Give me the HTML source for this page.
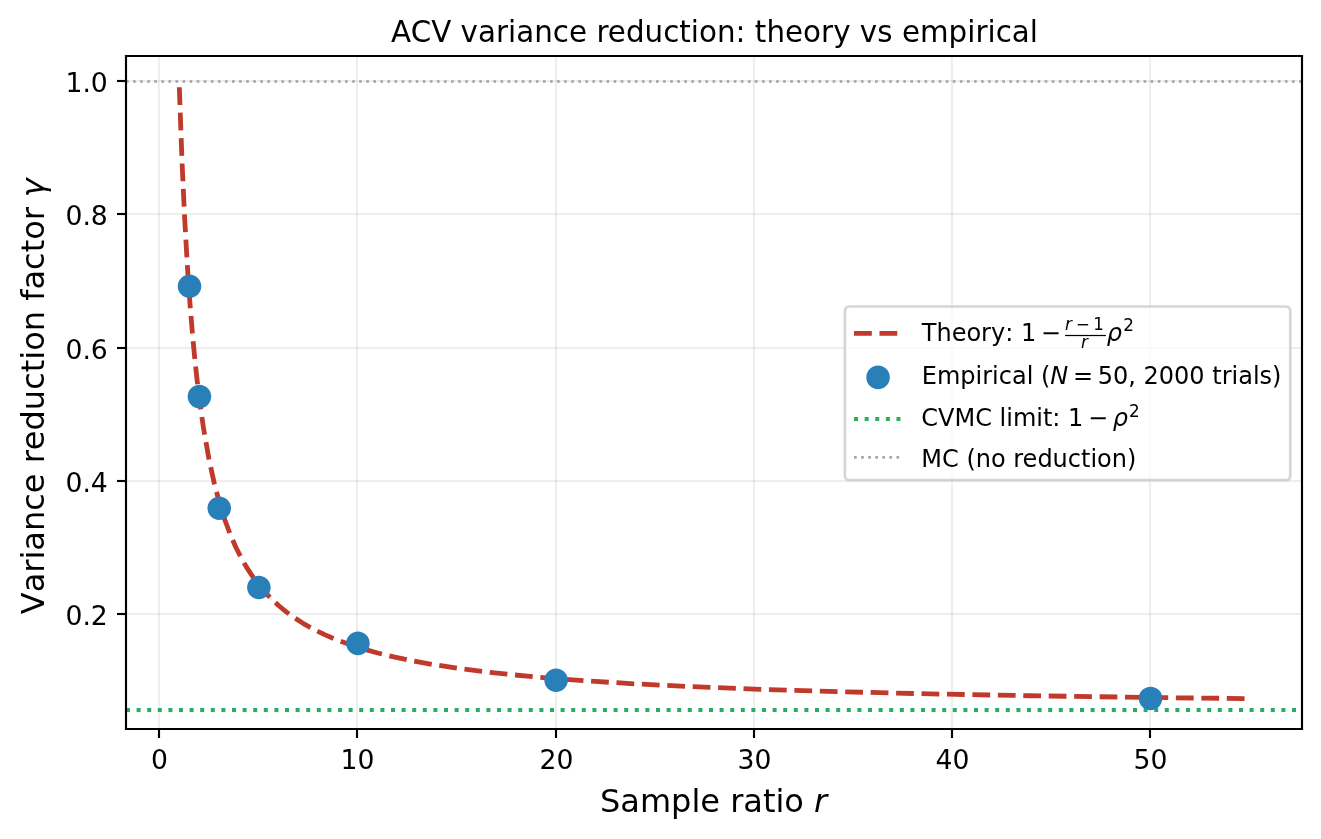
<!DOCTYPE html>
<html lang="en">
<head>
<meta charset="utf-8">
<title>ACV variance reduction: theory vs empirical</title>
<style>
html,body{margin:0;padding:0;background:#fff;}
body{width:1321px;height:839px;overflow:hidden;font-family:"DejaVu Sans","Liberation Sans",sans-serif;}
svg{display:block;}
svg text{white-space:pre;}
</style>
</head>
<body>
<svg width="1321" height="839" viewBox="0 0 495.3750 314.6250" version="1.1">
 <defs>
  <style type="text/css">*{stroke-linejoin: round; stroke-linecap: butt}</style>
 </defs>
 <g id="figure_1">
  <g id="patch_1">
   <path d="M 0 314.625 
L 495.375 314.625 
L 495.375 0 
L 0 0 
z
" style="fill: #ffffff"/>
  </g>
  <g id="axes_1">
   <g id="patch_2">
    <path d="M 47.25 273.375 
L 488.25 273.375 
L 488.25 21 
L 47.25 21 
z
" style="fill: #ffffff"/>
   </g>
   <g id="matplotlib.axis_1">
    <g id="xtick_1">
     <g id="line2d_1">
      <path d="M 59.625 273.375 
L 59.625 21 
" clip-path="url(#p05cda53aca)" style="fill: none; stroke: #b0b0b0; stroke-opacity: 0.22; stroke-width: 0.8; stroke-linecap: square"/>
     </g>
     <g id="line2d_2">
      <g>
       <path d="M 0 0 L 0 3.375" transform="translate(59.625 273.375)" style="stroke: #000000; stroke-width: 0.8"/>
      </g>
     </g>
     <g id="text_1">
      <text style="font-size: 10px; font-family: 'DejaVu Sans', 'Liberation Sans', sans-serif; text-anchor: middle" x="59.79375" y="288.498312">0</text>
     </g>
    </g>
    <g id="xtick_2">
     <g id="line2d_3">
      <path d="M 133.875 273.375 
L 133.875 21 
" clip-path="url(#p05cda53aca)" style="fill: none; stroke: #b0b0b0; stroke-opacity: 0.22; stroke-width: 0.8; stroke-linecap: square"/>
     </g>
     <g id="line2d_4">
      <g>
       <path d="M 0 0 L 0 3.375" transform="translate(133.875 273.375)" style="stroke: #000000; stroke-width: 0.8"/>
      </g>
     </g>
     <g id="text_2">
      <text style="font-size: 10px; font-family: 'DejaVu Sans', 'Liberation Sans', sans-serif; text-anchor: middle" x="134.04375" y="288.498312">10</text>
     </g>
    </g>
    <g id="xtick_3">
     <g id="line2d_5">
      <path d="M 208.5 273.375 
L 208.5 21 
" clip-path="url(#p05cda53aca)" style="fill: none; stroke: #b0b0b0; stroke-opacity: 0.22; stroke-width: 0.8; stroke-linecap: square"/>
     </g>
     <g id="line2d_6">
      <g>
       <path d="M 0 0 L 0 3.375" transform="translate(208.5 273.375)" style="stroke: #000000; stroke-width: 0.8"/>
      </g>
     </g>
     <g id="text_3">
      <text style="font-size: 10px; font-family: 'DejaVu Sans', 'Liberation Sans', sans-serif; text-anchor: middle" x="208.66875" y="288.498312">20</text>
     </g>
    </g>
    <g id="xtick_4">
     <g id="line2d_7">
      <path d="M 282.75 273.375 
L 282.75 21 
" clip-path="url(#p05cda53aca)" style="fill: none; stroke: #b0b0b0; stroke-opacity: 0.22; stroke-width: 0.8; stroke-linecap: square"/>
     </g>
     <g id="line2d_8">
      <g>
       <path d="M 0 0 L 0 3.375" transform="translate(282.75 273.375)" style="stroke: #000000; stroke-width: 0.8"/>
      </g>
     </g>
     <g id="text_4">
      <text style="font-size: 10px; font-family: 'DejaVu Sans', 'Liberation Sans', sans-serif; text-anchor: middle" x="282.91875" y="288.498312">30</text>
     </g>
    </g>
    <g id="xtick_5">
     <g id="line2d_9">
      <path d="M 357 273.375 
L 357 21 
" clip-path="url(#p05cda53aca)" style="fill: none; stroke: #b0b0b0; stroke-opacity: 0.22; stroke-width: 0.8; stroke-linecap: square"/>
     </g>
     <g id="line2d_10">
      <g>
       <path d="M 0 0 L 0 3.375" transform="translate(357 273.375)" style="stroke: #000000; stroke-width: 0.8"/>
      </g>
     </g>
     <g id="text_5">
      <text style="font-size: 10px; font-family: 'DejaVu Sans', 'Liberation Sans', sans-serif; text-anchor: middle" x="357.16875" y="288.498312">40</text>
     </g>
    </g>
    <g id="xtick_6">
     <g id="line2d_11">
      <path d="M 431.25 273.375 
L 431.25 21 
" clip-path="url(#p05cda53aca)" style="fill: none; stroke: #b0b0b0; stroke-opacity: 0.22; stroke-width: 0.8; stroke-linecap: square"/>
     </g>
     <g id="line2d_12">
      <g>
       <path d="M 0 0 L 0 3.375" transform="translate(431.25 273.375)" style="stroke: #000000; stroke-width: 0.8"/>
      </g>
     </g>
     <g id="text_6">
      <text style="font-size: 10px; font-family: 'DejaVu Sans', 'Liberation Sans', sans-serif; text-anchor: middle" x="431.41875" y="288.498312">50</text>
     </g>
    </g>
   </g>
   <g id="matplotlib.axis_2">
    <g id="ytick_1">
     <g id="line2d_13">
      <path d="M 47.25 230.25 
L 488.25 230.25 
" clip-path="url(#p05cda53aca)" style="fill: none; stroke: #b0b0b0; stroke-opacity: 0.22; stroke-width: 0.8; stroke-linecap: square"/>
     </g>
     <g id="line2d_14">
      <g>
       <path d="M 0 0 L -3.375 0" transform="translate(47.25 230.25)" style="stroke: #000000; stroke-width: 0.8"/>
      </g>
     </g>
     <g id="text_7">
      <text style="font-size: 10px; font-family: 'DejaVu Sans', 'Liberation Sans', sans-serif; text-anchor: end" x="40.437625" y="234.236719">0.2</text>
     </g>
    </g>
    <g id="ytick_2">
     <g id="line2d_15">
      <path d="M 47.25 180.375 
L 488.25 180.375 
" clip-path="url(#p05cda53aca)" style="fill: none; stroke: #b0b0b0; stroke-opacity: 0.22; stroke-width: 0.8; stroke-linecap: square"/>
     </g>
     <g id="line2d_16">
      <g>
       <path d="M 0 0 L -3.375 0" transform="translate(47.25 180.375)" style="stroke: #000000; stroke-width: 0.8"/>
      </g>
     </g>
     <g id="text_8">
      <text style="font-size: 10px; font-family: 'DejaVu Sans', 'Liberation Sans', sans-serif; text-anchor: end" x="40.437625" y="184.361719">0.4</text>
     </g>
    </g>
    <g id="ytick_3">
     <g id="line2d_17">
      <path d="M 47.25 130.5 
L 488.25 130.5 
" clip-path="url(#p05cda53aca)" style="fill: none; stroke: #b0b0b0; stroke-opacity: 0.22; stroke-width: 0.8; stroke-linecap: square"/>
     </g>
     <g id="line2d_18">
      <g>
       <path d="M 0 0 L -3.375 0" transform="translate(47.25 130.5)" style="stroke: #000000; stroke-width: 0.8"/>
      </g>
     </g>
     <g id="text_9">
      <text style="font-size: 10px; font-family: 'DejaVu Sans', 'Liberation Sans', sans-serif; text-anchor: end" x="40.437625" y="134.486719">0.6</text>
     </g>
    </g>
    <g id="ytick_4">
     <g id="line2d_19">
      <path d="M 47.25 80.25 
L 488.25 80.25 
" clip-path="url(#p05cda53aca)" style="fill: none; stroke: #b0b0b0; stroke-opacity: 0.22; stroke-width: 0.8; stroke-linecap: square"/>
     </g>
     <g id="line2d_20">
      <g>
       <path d="M 0 0 L -3.375 0" transform="translate(47.25 80.25)" style="stroke: #000000; stroke-width: 0.8"/>
      </g>
     </g>
     <g id="text_10">
      <text style="font-size: 10px; font-family: 'DejaVu Sans', 'Liberation Sans', sans-serif; text-anchor: end" x="40.437625" y="84.236719">0.8</text>
     </g>
    </g>
    <g id="ytick_5">
     <g id="line2d_21">
      <path d="M 47.25 30.375 
L 488.25 30.375 
" clip-path="url(#p05cda53aca)" style="fill: none; stroke: #b0b0b0; stroke-opacity: 0.22; stroke-width: 0.8; stroke-linecap: square"/>
     </g>
     <g id="line2d_22">
      <g>
       <path d="M 0 0 L -3.375 0" transform="translate(47.25 30.375)" style="stroke: #000000; stroke-width: 0.8"/>
      </g>
     </g>
     <g id="text_11">
      <text style="font-size: 10px; font-family: 'DejaVu Sans', 'Liberation Sans', sans-serif; text-anchor: end" x="40.437625" y="34.361719">1.0</text>
     </g>
    </g>
   </g>
   <g id="line2d_23">
    <path d="M 67.242431 32.710594 
L 68.247894 60.304517 
L 69.253356 82.067194 
L 70.258818 99.670401 
L 71.26428 114.20261 
L 72.269743 126.40298 
L 73.275205 136.791077 
L 74.280667 145.742782 
L 75.286129 153.536751 
L 76.291592 160.383941 
L 78.302516 171.853299 
L 80.313441 181.080814 
L 82.324365 188.665265 
L 84.33529 195.009624 
L 86.346214 200.395047 
L 88.357139 205.02367 
L 90.368063 209.044546 
L 92.378988 212.569998 
L 94.389912 215.686278 
L 96.400837 218.460711 
L 98.411761 220.946623 
L 101.428148 224.225842 
L 104.444535 227.062563 
L 107.460922 229.54069 
L 110.477309 231.724177 
L 113.493695 233.662623 
L 117.515545 235.932375 
L 121.537394 237.906703 
L 125.559243 239.63976 
L 130.586554 241.529388 
L 135.613865 243.168615 
L 141.646639 244.870077 
L 147.679412 246.3381 
L 154.717648 247.815095 
L 162.761346 249.25598 
L 171.810507 250.629748 
L 181.865129 251.917389 
L 192.925214 253.109247 
L 205.996224 254.285409 
L 221.078158 255.405712 
L 238.171016 256.446443 
L 258.280262 257.441411 
L 282.411356 258.39816 
L 310.564299 259.281697 
L 344.750016 260.119903 
L 385.973969 260.897039 
L 436.247083 261.614456 
L 468.421875 261.980974 
L 468.421875 261.980974 
" clip-path="url(#p05cda53aca)" style="fill: none; stroke-dasharray: 6.66,2.88; stroke-dashoffset: 0; stroke: #c0392b; stroke-width: 1.8"/>
   </g>
   <g id="line2d_24">
    <path d="M 47.25 266.269973 
L 488.25 266.269973 
" clip-path="url(#p05cda53aca)" style="fill: none; stroke-dasharray: 1.5,2.475; stroke-dashoffset: 0; stroke: #27ae60; stroke-width: 1.5"/>
   </g>
   <g id="line2d_25">
    <path d="M 47.25 30.5625 
L 488.25 30.5625 
" clip-path="url(#p05cda53aca)" style="fill: none; stroke-dasharray: 1,1.65; stroke-dashoffset: 0; stroke: #808080; stroke-opacity: 0.7"/>
   </g>
   <g id="patch_3">
    <path d="M 47.25 273.375 
L 47.25 21 
" style="fill: none; stroke: #000000; stroke-width: 0.8; stroke-linejoin: miter; stroke-linecap: square"/>
   </g>
   <g id="patch_4">
    <path d="M 488.25 273.375 
L 488.25 21 
" style="fill: none; stroke: #000000; stroke-width: 0.8; stroke-linejoin: miter; stroke-linecap: square"/>
   </g>
   <g id="patch_5">
    <path d="M 47.25 273.375 
L 488.25 273.375 
" style="fill: none; stroke: #000000; stroke-width: 0.8; stroke-linejoin: miter; stroke-linecap: square"/>
   </g>
   <g id="patch_6">
    <path d="M 47.25 21 
L 488.25 21 
" style="fill: none; stroke: #000000; stroke-width: 0.8; stroke-linejoin: miter; stroke-linecap: square"/>
   </g>
   <g id="text_12">
    <text style="font-size: 11px; font-family: 'DejaVu Sans', 'Liberation Sans', sans-serif; text-anchor: middle; letter-spacing: 0.01px" x="267.9500" y="15.675">ACV variance reduction: theory vs empirical</text>
   </g>
   <g id="PathCollection_1">
    <g clip-path="url(#p05cda53aca)">
     <path d="M 0 4.41588 C 1.171105 4.41588 2.294403 3.950595 3.122499 3.122499 C 3.950595 2.294403 4.41588 1.171105 4.41588 0 C 4.41588 -1.171105 3.950595 -2.294403 3.122499 -3.122499 C 2.294403 -3.950595 1.171105 -4.41588 0 -4.41588 C -1.171105 -4.41588 -2.294403 -3.950595 -3.122499 -3.122499 C -3.950595 -2.294403 -4.41588 -1.171105 -4.41588 0 C -4.41588 1.171105 -3.950595 2.294403 -3.122499 3.122499 C -2.294403 3.950595 -1.171105 4.41588 0 4.41588 z" transform="translate(71.070937 107.351859)" style="fill: #2980b9"/>
     <path d="M 0 4.41588 C 1.171105 4.41588 2.294403 3.950595 3.122499 3.122499 C 3.950595 2.294403 4.41588 1.171105 4.41588 0 C 4.41588 -1.171105 3.950595 -2.294403 3.122499 -3.122499 C 2.294403 -3.950595 1.171105 -4.41588 0 -4.41588 C -1.171105 -4.41588 -2.294403 -3.950595 -3.122499 -3.122499 C -3.950595 -2.294403 -4.41588 -1.171105 -4.41588 0 C -4.41588 1.171105 -3.950595 2.294403 -3.122499 3.122499 C -2.294403 3.950595 -1.171105 4.41588 0 4.41588 z" transform="translate(74.78625 148.725984)" style="fill: #2980b9"/>
     <path d="M 0 4.41588 C 1.171105 4.41588 2.294403 3.950595 3.122499 3.122499 C 3.950595 2.294403 4.41588 1.171105 4.41588 0 C 4.41588 -1.171105 3.950595 -2.294403 3.122499 -3.122499 C 2.294403 -3.950595 1.171105 -4.41588 0 -4.41588 C -1.171105 -4.41588 -2.294403 -3.950595 -3.122499 -3.122499 C -3.950595 -2.294403 -4.41588 -1.171105 -4.41588 0 C -4.41588 1.171105 -3.950595 2.294403 -3.122499 3.122499 C -2.294403 3.950595 -1.171105 4.41588 0 4.41588 z" transform="translate(82.216875 190.599797)" style="fill: #2980b9"/>
     <path d="M 0 4.41588 C 1.171105 4.41588 2.294403 3.950595 3.122499 3.122499 C 3.950595 2.294403 4.41588 1.171105 4.41588 0 C 4.41588 -1.171105 3.950595 -2.294403 3.122499 -3.122499 C 2.294403 -3.950595 1.171105 -4.41588 0 -4.41588 C -1.171105 -4.41588 -2.294403 -3.950595 -3.122499 -3.122499 C -3.950595 -2.294403 -4.41588 -1.171105 -4.41588 0 C -4.41588 1.171105 -3.950595 2.294403 -3.122499 3.122499 C -2.294403 3.950595 -1.171105 4.41588 0 4.41588 z" transform="translate(97.078125 220.306219)" style="fill: #2980b9"/>
     <path d="M 0 4.41588 C 1.171105 4.41588 2.294403 3.950595 3.122499 3.122499 C 3.950595 2.294403 4.41588 1.171105 4.41588 0 C 4.41588 -1.171105 3.950595 -2.294403 3.122499 -3.122499 C 2.294403 -3.950595 1.171105 -4.41588 0 -4.41588 C -1.171105 -4.41588 -2.294403 -3.950595 -3.122499 -3.122499 C -3.950595 -2.294403 -4.41588 -1.171105 -4.41588 0 C -4.41588 1.171105 -3.950595 2.294403 -3.122499 3.122499 C -2.294403 3.950595 -1.171105 4.41588 0 4.41588 z" transform="translate(134.23125 241.268109)" style="fill: #2980b9"/>
     <path d="M 0 4.41588 C 1.171105 4.41588 2.294403 3.950595 3.122499 3.122499 C 3.950595 2.294403 4.41588 1.171105 4.41588 0 C 4.41588 -1.171105 3.950595 -2.294403 3.122499 -3.122499 C 2.294403 -3.950595 1.171105 -4.41588 0 -4.41588 C -1.171105 -4.41588 -2.294403 -3.950595 -3.122499 -3.122499 C -3.950595 -2.294403 -4.41588 -1.171105 -4.41588 0 C -4.41588 1.171105 -3.950595 2.294403 -3.122499 3.122499 C -2.294403 3.950595 -1.171105 4.41588 0 4.41588 z" transform="translate(208.5375 255.109453)" style="fill: #2980b9"/>
     <path d="M 0 4.41588 C 1.171105 4.41588 2.294403 3.950595 3.122499 3.122499 C 3.950595 2.294403 4.41588 1.171105 4.41588 0 C 4.41588 -1.171105 3.950595 -2.294403 3.122499 -3.122499 C 2.294403 -3.950595 1.171105 -4.41588 0 -4.41588 C -1.171105 -4.41588 -2.294403 -3.950595 -3.122499 -3.122499 C -3.950595 -2.294403 -4.41588 -1.171105 -4.41588 0 C -4.41588 1.171105 -3.950595 2.294403 -3.122499 3.122499 C -2.294403 3.950595 -1.171105 4.41588 0 4.41588 z" transform="translate(431.45625 261.905203)" style="fill: #2980b9"/>
    </g>
   </g>
  </g>
  <g id="text_13">
   <g transform="translate(225 304.5375)">
    <text><tspan x="0.0000" y="0.0000" style="font-size: 12px; font-family: 'DejaVu Sans', 'Liberation Sans', sans-serif; font-kerning: none">Sample ratio </tspan><tspan x="80.2910" y="0.0000" style="font-style: oblique; font-size: 12px; font-family: 'DejaVu Sans', 'Liberation Sans', sans-serif; font-kerning: none">r</tspan></text>
   </g>
  </g>
  <g id="text_14">
   <g transform="translate(16.6125 230.325) rotate(-90)">
    <text><tspan x="0.0000" y="0.0000" style="font-size: 12px; font-family: 'DejaVu Sans', 'Liberation Sans', sans-serif; font-kerning: none">Variance reduction factor </tspan><tspan x="156.3422" y="0.0000" style="font-style: oblique; font-size: 12px; font-family: 'DejaVu Sans', 'Liberation Sans', sans-serif; font-kerning: none">γ</tspan></text>
   </g>
  </g>
  <g id="patch_7">
   <path d="M 318.6375 180.075 
L 482.0625 180.075 
Q 483.8625 180.075 483.8625 178.275 
L 483.8625 116.7375 
Q 483.8625 114.9375 482.0625 114.9375 
L 318.6375 114.9375 
Q 316.8375 114.9375 316.8375 116.7375 
L 316.8375 178.275 
Q 316.8375 180.075 318.6375 180.075 
z
" style="fill: #ffffff; opacity: 0.8; stroke: #cccccc; stroke-linejoin: miter"/>
  </g>
  <g id="line2d_26">
   <path d="M 320.2725 125.025 
L 329.2725 125.025 
L 338.2725 125.025 
" style="fill: none; stroke-dasharray: 6.66,2.88; stroke-dashoffset: 0; stroke: #c0392b; stroke-width: 1.8"/>
  </g>
  <g id="line2d_27">
   <g>
    <path d="M 0 4.41588 C 1.171105 4.41588 2.294403 3.950595 3.122499 3.122499 C 3.950595 2.294403 4.41588 1.171105 4.41588 0 C 4.41588 -1.171105 3.950595 -2.294403 3.122499 -3.122499 C 2.294403 -3.950595 1.171105 -4.41588 0 -4.41588 C -1.171105 -4.41588 -2.294403 -3.950595 -3.122499 -3.122499 C -3.950595 -2.294403 -4.41588 -1.171105 -4.41588 0 C -4.41588 1.171105 -3.950595 2.294403 -3.122499 3.122499 C -2.294403 3.950595 -1.171105 4.41588 0 4.41588 z" transform="translate(329.2725 141.525)" style="fill: #2980b9"/>
   </g>
  </g>
  <g id="line2d_28">
   <path d="M 320.2725 157.0875 
L 329.2725 157.0875 
L 338.2725 157.0875 
" style="fill: none; stroke-dasharray: 1.5,2.475; stroke-dashoffset: 0; stroke: #27ae60; stroke-width: 1.5"/>
  </g>
  <g id="line2d_29">
   <path d="M 320.2725 171.525 
L 329.2725 171.525 
L 338.2725 171.525 
" style="fill: none; stroke-dasharray: 1,1.65; stroke-dashoffset: 0; stroke: #808080; stroke-opacity: 0.7"/>
  </g>
  <g id="text_15">
   <g transform="translate(345.675 127.6875)">
    <text><tspan x="0.0000" y="0.0000" style="font-size: 9px; font-family: 'DejaVu Sans', 'Liberation Sans', sans-serif; font-kerning: none">Theory: 1</tspan><tspan x="44.6440" y="0.0000" style="font-size: 9px; font-family: 'DejaVu Sans', 'Liberation Sans', sans-serif; font-kerning: none">−</tspan><tspan x="53.6585" y="-3.9453" style="font-style: oblique; font-size: 6.3px; font-family: 'DejaVu Sans', 'Liberation Sans', sans-serif; font-kerning: none">r</tspan><tspan x="57.7560" y="-3.9453" style="font-size: 6.3px; font-family: 'DejaVu Sans', 'Liberation Sans', sans-serif; font-kerning: none">−</tspan><tspan x="59.6785" y="2.8500" style="font-style: oblique; font-size: 6.3px; font-family: 'DejaVu Sans', 'Liberation Sans', sans-serif; font-kerning: none">r</tspan><tspan x="64.2621" y="-3.9453" style="font-size: 6.3px; font-family: 'DejaVu Sans', 'Liberation Sans', sans-serif; font-kerning: none">1</tspan><tspan x="69.3954" y="0.0000" style="font-style: oblique; font-size: 9px; font-family: 'DejaVu Sans', 'Liberation Sans', sans-serif; font-kerning: none">ρ</tspan><tspan x="75.5277" y="-3.4453" style="font-size: 6.3px; font-family: 'DejaVu Sans', 'Liberation Sans', sans-serif; font-kerning: none">2</tspan></text>
    <rect x="53.70" y="-2.10" width="15.33" height="0.46"/>
   </g>
  </g>
  <g id="text_16">
   <g transform="translate(345.675 143.925)">
    <text><tspan x="0.0000" y="0.0000" style="font-size: 9px; font-family: 'DejaVu Sans', 'Liberation Sans', sans-serif; font-kerning: none">Empirical (</tspan><tspan x="48.2036" y="0.0000" style="font-style: oblique; font-size: 9px; font-family: 'DejaVu Sans', 'Liberation Sans', sans-serif; font-kerning: none">N</tspan><tspan x="56.6895" y="0.0000" style="font-size: 9px; font-family: 'DejaVu Sans', 'Liberation Sans', sans-serif; font-kerning: none">=</tspan><tspan x="65.9839" y="0.0000" style="font-size: 9px; font-family: 'DejaVu Sans', 'Liberation Sans', sans-serif; font-kerning: none">50, 2000 trials)</tspan></text>
   </g>
  </g>
  <g id="text_17">
   <g transform="translate(345.4875 159.9)">
    <text><tspan x="0.0000" y="0.0000" style="font-size: 9px; font-family: 'DejaVu Sans', 'Liberation Sans', sans-serif; font-kerning: none">CVMC limit: 1</tspan><tspan x="62.5210" y="0.0000" style="font-size: 9px; font-family: 'DejaVu Sans', 'Liberation Sans', sans-serif; font-kerning: none">−</tspan><tspan x="71.8154" y="0.0000" style="font-style: oblique; font-size: 9px; font-family: 'DejaVu Sans', 'Liberation Sans', sans-serif; font-kerning: none">ρ</tspan><tspan x="77.8478" y="-3.7053" style="font-size: 6.3px; font-family: 'DejaVu Sans', 'Liberation Sans', sans-serif; font-kerning: none">2</tspan></text>
   </g>
  </g>
  <g id="text_18">
   <text style="font-size: 9px; font-family: 'DejaVu Sans', 'Liberation Sans', sans-serif; text-anchor: start" x="345.4875" y="174.9375">MC (no reduction)</text>
  </g>
 </g>
 <defs>
  <clipPath id="p05cda53aca">
   <rect x="47.25" y="21" width="441" height="252.375"/>
  </clipPath>
 </defs>
</svg>

</body>
</html>
